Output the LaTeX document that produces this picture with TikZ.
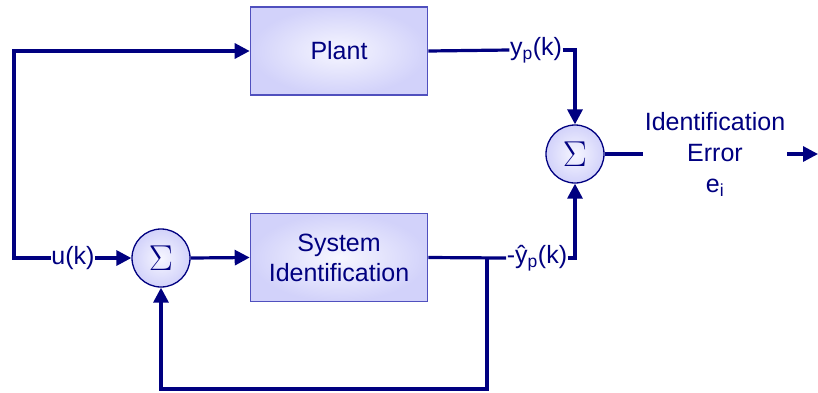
\RequirePackage{fix-cm}
\documentclass[tikz,border=0pt]{standalone}
\usepackage[no-math]{fontspec}
\setmainfont{Liberation Sans}
\usetikzlibrary{arrows.meta,shapes.geometric}
\definecolor{navy}{RGB}{0,0,128}
\definecolor{boxedge}{RGB}{80,80,190}
\definecolor{lav}{RGB}{210,210,250}
\definecolor{lavin}{RGB}{246,246,255}
\tikzset{
  wire/.style={draw=navy,line width=3.2pt},
  arr/.style={wire,-{Triangle[length=15pt,width=15pt]}},
  blockbox/.style={rectangle,draw=boxedge,line width=1.6pt,inner color=lavin,outer color=lav,
    minimum width=177pt,minimum height=88pt,text=navy,align=center,
    font=\fontsize{25}{30}\selectfont},
  sumnode/.style={circle,draw=navy,line width=1.3pt,inner color=lavin,outer color=lav,
    minimum size=58pt,inner sep=0pt,text=navy,font=\fontsize{36}{36}\selectfont},
  sig/.style={fill=white,inner sep=0.5pt,text=navy,font=\fontsize{25}{30}\selectfont},
  errlab/.style={align=center,inner sep=2pt,text=navy,font=\fontsize{25}{31}\selectfont},
}
\begin{document}
\begin{tikzpicture}[x=1pt,y=-1pt]
\useasboundingbox (0,0) rectangle (818,392);
\node[blockbox] (plant) at (339,51) {Plant};
\node[blockbox] (sysid) at (339,257.5) {System\\Identification};
\node[sumnode] (s1) at (161,258) {$\Sigma$};
\node[sumnode] (s2) at (575,154) {$\Sigma$};
\node[sig] (uk) at (73,258) {u(k)};
\node[sig] (yp) at (536,50) {y\textsubscript{p}(k)};
\node[sig] (yh) at (537,258) {-ŷ\textsubscript{p}(k)};
\node[errlab] (err) at (715,154) {Identification\\Error\\e\textsubscript{i}};
\coordinate (lb) at (14,258);
\coordinate (fb) at (487,258);
\coordinate (fbb) at (487,389);
\coordinate (outend) at (818,154);
\draw[arr] (uk.west) -- (lb) |- (plant.west);
\draw[arr] (uk.east) -- (s1.west);
\draw[arr] (s1.east) -- (sysid.west);
\draw[wire] (plant.east) -- (yp.west);
\draw[arr] (yp.east) -| (s2.north);
\draw[wire] (sysid.east) -- (yh.west);
\draw[arr] (yh.east) -| (s2.south);
\draw[arr] (fb) -- (fbb) -| (s1.south);
\draw[wire] (s2.east) -- (err.west);
\draw[arr] (err.east) -- (outend);
\end{tikzpicture}
\end{document}
